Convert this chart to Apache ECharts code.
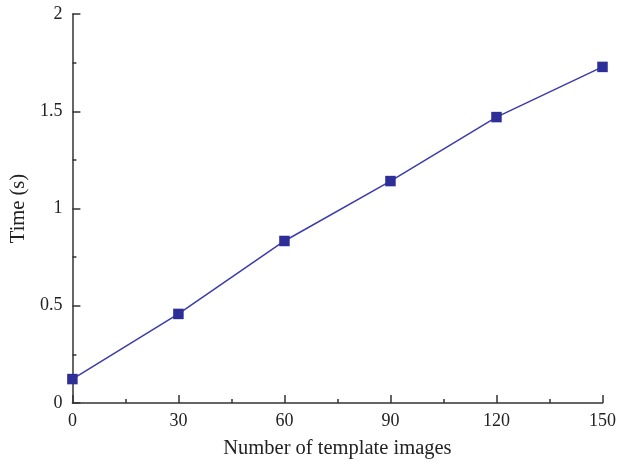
<!DOCTYPE html>
<html><head><meta charset="utf-8">
<script src="https://cdn.jsdelivr.net/npm/echarts@6/dist/echarts.min.js"></script>
<style>html,body{margin:0;padding:0;background:#fff}#c{width:619px;height:464px}</style>
</head><body><div id="c"></div>
<script>
const xValues = [0, 30, 60, 90, 120, 150];
const timeValues = [0.123, 0.458, 0.833, 1.141, 1.470, 1.728];
const xTitle = 'Number of template images';
const yTitle = 'Time (s)';

const chart = echarts.init(document.getElementById('c'), null, {renderer: 'canvas'});
const font = 'Liberation Serif';
const axisCol = '#333';
chart.setOption({
  animation: false,
  backgroundColor: '#fff',
  grid: {left: 70, right: 16.5, top: 14, bottom: 61, containLabel: false},
  xAxis: {
    type: 'value', min: 0, max: 150, interval: 30,
    name: xTitle, nameLocation: 'middle', nameGap: 35,
    nameTextStyle: {fontFamily: font, fontSize: 20.5, color: '#222'},
    axisLine: {show: true, lineStyle: {color: axisCol, width: 1.5}},
    axisTick: {show: true, inside: true, length: 8, lineStyle: {color: axisCol, width: 1.5}},
    minorTick: {show: true, splitNumber: 2, length: 4, lineStyle: {color: axisCol, width: 1.5}},
    axisLabel: {fontFamily: font, fontSize: 18, color: '#222', margin: 9},
    splitLine: {show: false}
  },
  yAxis: {
    type: 'value', min: 0, max: 2, interval: 0.5,
    name: yTitle, nameLocation: 'middle', nameGap: 43, nameRotate: 90,
    nameTextStyle: {fontFamily: font, fontSize: 20.5, color: '#222'},
    axisLine: {show: true, lineStyle: {color: axisCol, width: 1.5}},
    axisTick: {show: true, inside: true, length: 8, lineStyle: {color: axisCol, width: 1.5}},
    minorTick: {show: true, splitNumber: 2, length: 4, lineStyle: {color: axisCol, width: 1.5}},
    axisLabel: {fontFamily: font, fontSize: 18, color: '#222', margin: 10,
      formatter: v => String(v)},
    splitLine: {show: false}
  },
  series: [{
    type: 'line',
    data: xValues.map((x, i) => [x, timeValues[i]]),
    symbol: 'rect', symbolSize: 10.5,
    lineStyle: {color: '#3b3bab', width: 1.5},
    itemStyle: {color: '#2e2e99'},
    clip: false
  }]
});
</script></body></html>
